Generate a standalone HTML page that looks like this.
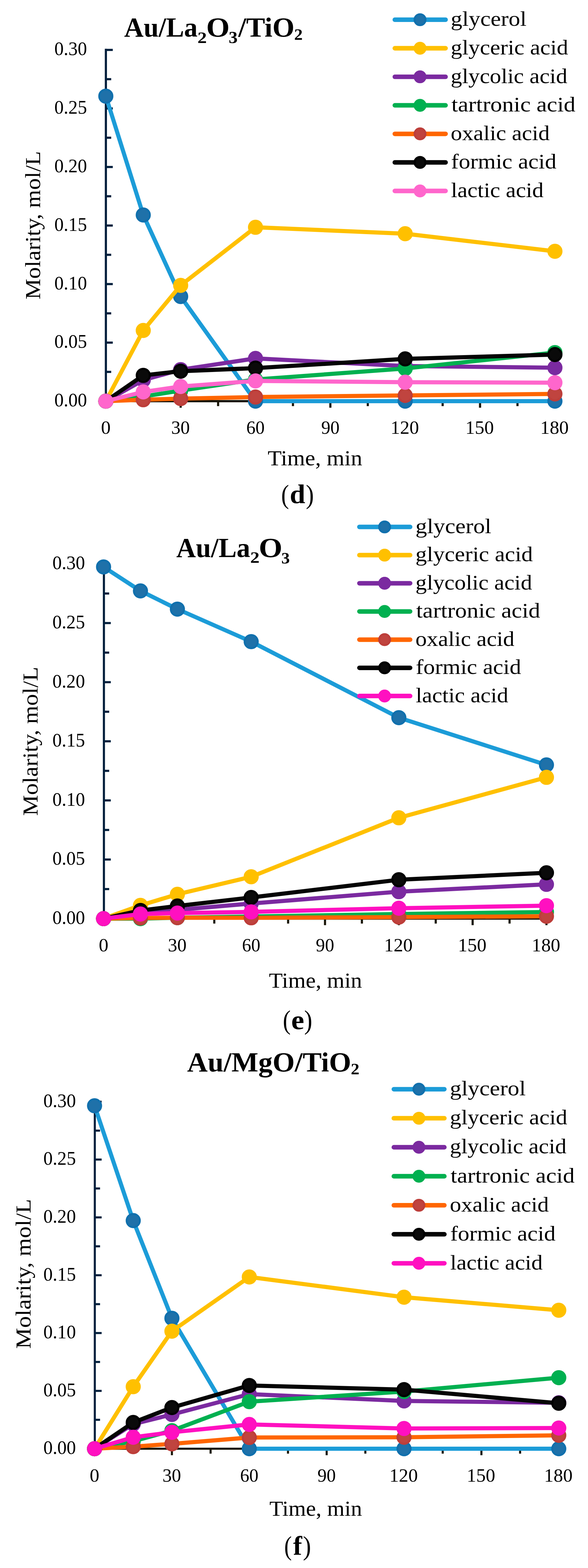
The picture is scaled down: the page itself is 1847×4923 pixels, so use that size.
<!DOCTYPE html>
<html><head><meta charset="utf-8"><title>Glycerol oxidation kinetics</title>
<style>html,body{margin:0;padding:0;background:#fff;}svg{display:block;}text{font-family:'Liberation Serif', serif;}</style></head>
<body><svg width="1847" height="4923" viewBox="0 0 1847 4923">
<rect width="1847" height="4923" fill="#fff"/>
<g id="axes-d">
<line x1="332.6" y1="153.0" x2="332.6" y2="1262.9" stroke="#03203D" stroke-width="6.8"/>
<line x1="332.6" y1="1167.6" x2="349.3" y2="1167.6" stroke="#03203D" stroke-width="6.8"/>
<line x1="332.6" y1="1075.7" x2="354.3" y2="1075.7" stroke="#03203D" stroke-width="6.8"/>
<line x1="332.6" y1="983.8" x2="349.3" y2="983.8" stroke="#03203D" stroke-width="6.8"/>
<line x1="332.6" y1="891.9" x2="354.3" y2="891.9" stroke="#03203D" stroke-width="6.8"/>
<line x1="332.6" y1="800.0" x2="349.3" y2="800.0" stroke="#03203D" stroke-width="6.8"/>
<line x1="332.6" y1="708.1" x2="354.3" y2="708.1" stroke="#03203D" stroke-width="6.8"/>
<line x1="332.6" y1="616.2" x2="349.3" y2="616.2" stroke="#03203D" stroke-width="6.8"/>
<line x1="332.6" y1="524.3" x2="354.3" y2="524.3" stroke="#03203D" stroke-width="6.8"/>
<line x1="332.6" y1="432.4" x2="349.3" y2="432.4" stroke="#03203D" stroke-width="6.8"/>
<line x1="332.6" y1="340.5" x2="354.3" y2="340.5" stroke="#03203D" stroke-width="6.8"/>
<line x1="332.6" y1="248.6" x2="349.3" y2="248.6" stroke="#03203D" stroke-width="6.8"/>
<line x1="332.6" y1="156.7" x2="354.3" y2="156.7" stroke="#03203D" stroke-width="6.8"/>
<line x1="332.6" y1="1259.5" x2="1746.5" y2="1259.5" stroke="#1A1608" stroke-width="6.8"/>
<line x1="450.0" y1="1259.5" x2="450.0" y2="1275.1" stroke="#1A1608" stroke-width="6.8"/>
<line x1="567.5" y1="1259.5" x2="567.5" y2="1280.1" stroke="#1A1608" stroke-width="6.8"/>
<line x1="685.1" y1="1259.5" x2="685.1" y2="1275.1" stroke="#1A1608" stroke-width="6.8"/>
<line x1="802.6" y1="1259.5" x2="802.6" y2="1280.1" stroke="#1A1608" stroke-width="6.8"/>
<line x1="920.2" y1="1259.5" x2="920.2" y2="1275.1" stroke="#1A1608" stroke-width="6.8"/>
<line x1="1037.7" y1="1259.5" x2="1037.7" y2="1280.1" stroke="#1A1608" stroke-width="6.8"/>
<line x1="1155.3" y1="1259.5" x2="1155.3" y2="1275.1" stroke="#1A1608" stroke-width="6.8"/>
<line x1="1272.8" y1="1259.5" x2="1272.8" y2="1280.1" stroke="#1A1608" stroke-width="6.8"/>
<line x1="1390.4" y1="1259.5" x2="1390.4" y2="1275.1" stroke="#1A1608" stroke-width="6.8"/>
<line x1="1507.9" y1="1259.5" x2="1507.9" y2="1280.1" stroke="#1A1608" stroke-width="6.8"/>
<line x1="1625.5" y1="1259.5" x2="1625.5" y2="1275.1" stroke="#1A1608" stroke-width="6.8"/>
<line x1="1743.1" y1="1259.5" x2="1743.1" y2="1280.1" stroke="#1A1608" stroke-width="6.8"/>
</g>
<g id="series-d">
<polyline points="332.4,301.9 450.0,675.0 567.5,930.9 802.6,1259.5 1272.8,1259.5 1743.1,1259.5" fill="none" stroke="#1C9CD8" stroke-width="13.0" stroke-linejoin="round"/>
<circle cx="332.4" cy="301.9" r="20.50" fill="#1F71A9" stroke="#1170AD" stroke-width="6.5"/>
<circle cx="450.0" cy="675.0" r="20.50" fill="#1F71A9" stroke="#1170AD" stroke-width="6.5"/>
<circle cx="567.5" cy="930.9" r="20.50" fill="#1F71A9" stroke="#1170AD" stroke-width="6.5"/>
<circle cx="802.6" cy="1259.5" r="20.50" fill="#1F71A9" stroke="#1170AD" stroke-width="6.5"/>
<circle cx="1272.8" cy="1259.5" r="20.50" fill="#1F71A9" stroke="#1170AD" stroke-width="6.5"/>
<circle cx="1743.1" cy="1259.5" r="20.50" fill="#1F71A9" stroke="#1170AD" stroke-width="6.5"/>
<polyline points="332.4,1259.5 450.0,1037.5 567.5,895.9 802.6,713.6 1272.8,733.8 1743.1,789.0" fill="none" stroke="#FFC000" stroke-width="13.0" stroke-linejoin="round"/>
<circle cx="332.4" cy="1259.5" r="20.50" fill="#FFC000" stroke="#FFC000" stroke-width="6.5"/>
<circle cx="450.0" cy="1037.5" r="20.50" fill="#FFC000" stroke="#FFC000" stroke-width="6.5"/>
<circle cx="567.5" cy="895.9" r="20.50" fill="#FFC000" stroke="#FFC000" stroke-width="6.5"/>
<circle cx="802.6" cy="713.6" r="20.50" fill="#FFC000" stroke="#FFC000" stroke-width="6.5"/>
<circle cx="1272.8" cy="733.8" r="20.50" fill="#FFC000" stroke="#FFC000" stroke-width="6.5"/>
<circle cx="1743.1" cy="789.0" r="20.50" fill="#FFC000" stroke="#FFC000" stroke-width="6.5"/>
<polyline points="332.4,1259.5 450.0,1193.3 567.5,1160.6 802.6,1125.3 1272.8,1149.2 1743.1,1154.4" fill="none" stroke="#7B2AA0" stroke-width="13.0" stroke-linejoin="round"/>
<circle cx="332.4" cy="1259.5" r="20.50" fill="#7B2AA0" stroke="#7B2AA0" stroke-width="6.5"/>
<circle cx="450.0" cy="1193.3" r="20.50" fill="#7B2AA0" stroke="#7B2AA0" stroke-width="6.5"/>
<circle cx="567.5" cy="1160.6" r="20.50" fill="#7B2AA0" stroke="#7B2AA0" stroke-width="6.5"/>
<circle cx="802.6" cy="1125.3" r="20.50" fill="#7B2AA0" stroke="#7B2AA0" stroke-width="6.5"/>
<circle cx="1272.8" cy="1149.2" r="20.50" fill="#7B2AA0" stroke="#7B2AA0" stroke-width="6.5"/>
<circle cx="1743.1" cy="1154.4" r="20.50" fill="#7B2AA0" stroke="#7B2AA0" stroke-width="6.5"/>
<polyline points="332.4,1259.5 450.0,1244.8 567.5,1226.4 802.6,1191.5 1272.8,1156.9 1743.1,1106.9" fill="none" stroke="#00B050" stroke-width="13.0" stroke-linejoin="round"/>
<circle cx="332.4" cy="1259.5" r="20.50" fill="#00B050" stroke="#00B050" stroke-width="6.5"/>
<circle cx="450.0" cy="1244.8" r="20.50" fill="#00B050" stroke="#00B050" stroke-width="6.5"/>
<circle cx="567.5" cy="1226.4" r="20.50" fill="#00B050" stroke="#00B050" stroke-width="6.5"/>
<circle cx="802.6" cy="1191.5" r="20.50" fill="#00B050" stroke="#00B050" stroke-width="6.5"/>
<circle cx="1272.8" cy="1156.9" r="20.50" fill="#00B050" stroke="#00B050" stroke-width="6.5"/>
<circle cx="1743.1" cy="1106.9" r="20.50" fill="#00B050" stroke="#00B050" stroke-width="6.5"/>
<polyline points="332.4,1259.5 450.0,1255.1 567.5,1251.4 802.6,1246.6 1272.8,1241.5 1743.1,1236.7" fill="none" stroke="#FF6600" stroke-width="13.0" stroke-linejoin="round"/>
<circle cx="332.4" cy="1259.5" r="20.50" fill="#C0443F" stroke="#BD3E3A" stroke-width="6.5"/>
<circle cx="450.0" cy="1255.1" r="20.50" fill="#C0443F" stroke="#BD3E3A" stroke-width="6.5"/>
<circle cx="567.5" cy="1251.4" r="20.50" fill="#C0443F" stroke="#BD3E3A" stroke-width="6.5"/>
<circle cx="802.6" cy="1246.6" r="20.50" fill="#C0443F" stroke="#BD3E3A" stroke-width="6.5"/>
<circle cx="1272.8" cy="1241.5" r="20.50" fill="#C0443F" stroke="#BD3E3A" stroke-width="6.5"/>
<circle cx="1743.1" cy="1236.7" r="20.50" fill="#C0443F" stroke="#BD3E3A" stroke-width="6.5"/>
<polyline points="332.4,1259.5 450.0,1178.6 567.5,1165.4 802.6,1155.8 1272.8,1126.8 1743.1,1113.2" fill="none" stroke="#050505" stroke-width="13.0" stroke-linejoin="round"/>
<circle cx="332.4" cy="1259.5" r="20.50" fill="#0A0A0A" stroke="#000000" stroke-width="6.5"/>
<circle cx="450.0" cy="1178.6" r="20.50" fill="#0A0A0A" stroke="#000000" stroke-width="6.5"/>
<circle cx="567.5" cy="1165.4" r="20.50" fill="#0A0A0A" stroke="#000000" stroke-width="6.5"/>
<circle cx="802.6" cy="1155.8" r="20.50" fill="#0A0A0A" stroke="#000000" stroke-width="6.5"/>
<circle cx="1272.8" cy="1126.8" r="20.50" fill="#0A0A0A" stroke="#000000" stroke-width="6.5"/>
<circle cx="1743.1" cy="1113.2" r="20.50" fill="#0A0A0A" stroke="#000000" stroke-width="6.5"/>
<polyline points="332.4,1259.5 450.0,1230.5 567.5,1213.5 802.6,1195.9 1272.8,1199.9 1743.1,1201.4" fill="none" stroke="#FF66CC" stroke-width="13.0" stroke-linejoin="round"/>
<circle cx="332.4" cy="1259.5" r="20.50" fill="#FF66CC" stroke="#FF66CC" stroke-width="6.5"/>
<circle cx="450.0" cy="1230.5" r="20.50" fill="#FF66CC" stroke="#FF66CC" stroke-width="6.5"/>
<circle cx="567.5" cy="1213.5" r="20.50" fill="#FF66CC" stroke="#FF66CC" stroke-width="6.5"/>
<circle cx="802.6" cy="1195.9" r="20.50" fill="#FF66CC" stroke="#FF66CC" stroke-width="6.5"/>
<circle cx="1272.8" cy="1199.9" r="20.50" fill="#FF66CC" stroke="#FF66CC" stroke-width="6.5"/>
<circle cx="1743.1" cy="1201.4" r="20.50" fill="#FF66CC" stroke="#FF66CC" stroke-width="6.5"/>
</g>
<g id="legend-d">
<line x1="1240.2" y1="61.9" x2="1399.6" y2="61.9" stroke="#1C9CD8" stroke-width="14.3" stroke-linecap="round"/>
<circle cx="1319.4" cy="61.9" r="16.95" fill="#1F71A9" stroke="#1170AD" stroke-width="6.5"/>
<line x1="1240.2" y1="151.5" x2="1399.6" y2="151.5" stroke="#FFC000" stroke-width="14.3" stroke-linecap="round"/>
<circle cx="1319.4" cy="151.5" r="16.95" fill="#FFC000" stroke="#FFC000" stroke-width="6.5"/>
<line x1="1240.2" y1="241.1" x2="1399.6" y2="241.1" stroke="#7B2AA0" stroke-width="14.3" stroke-linecap="round"/>
<circle cx="1319.4" cy="241.1" r="16.95" fill="#7B2AA0" stroke="#7B2AA0" stroke-width="6.5"/>
<line x1="1240.2" y1="330.7" x2="1399.6" y2="330.7" stroke="#00B050" stroke-width="14.3" stroke-linecap="round"/>
<circle cx="1319.4" cy="330.7" r="16.95" fill="#00B050" stroke="#00B050" stroke-width="6.5"/>
<line x1="1240.2" y1="420.3" x2="1399.6" y2="420.3" stroke="#FF6600" stroke-width="14.3" stroke-linecap="round"/>
<circle cx="1319.4" cy="420.3" r="16.95" fill="#C0443F" stroke="#BD3E3A" stroke-width="6.5"/>
<line x1="1240.2" y1="509.9" x2="1399.6" y2="509.9" stroke="#050505" stroke-width="14.3" stroke-linecap="round"/>
<circle cx="1319.4" cy="509.9" r="16.95" fill="#0A0A0A" stroke="#000000" stroke-width="6.5"/>
<line x1="1240.2" y1="599.5" x2="1399.6" y2="599.5" stroke="#FF66CC" stroke-width="14.3" stroke-linecap="round"/>
<circle cx="1319.4" cy="599.5" r="16.95" fill="#FF66CC" stroke="#FF66CC" stroke-width="6.5"/>
</g>
<g id="axes-e">
<line x1="326.4" y1="1776.0" x2="326.4" y2="2887.5" stroke="#03203D" stroke-width="6.7"/>
<line x1="326.4" y1="2791.4" x2="343.0" y2="2791.4" stroke="#03203D" stroke-width="6.7"/>
<line x1="326.4" y1="2698.6" x2="348.0" y2="2698.6" stroke="#03203D" stroke-width="6.7"/>
<line x1="326.4" y1="2605.8" x2="343.0" y2="2605.8" stroke="#03203D" stroke-width="6.7"/>
<line x1="326.4" y1="2513.0" x2="348.0" y2="2513.0" stroke="#03203D" stroke-width="6.7"/>
<line x1="326.4" y1="2420.2" x2="343.0" y2="2420.2" stroke="#03203D" stroke-width="6.7"/>
<line x1="326.4" y1="2327.4" x2="348.0" y2="2327.4" stroke="#03203D" stroke-width="6.7"/>
<line x1="326.4" y1="2234.6" x2="343.0" y2="2234.6" stroke="#03203D" stroke-width="6.7"/>
<line x1="326.4" y1="2141.8" x2="348.0" y2="2141.8" stroke="#03203D" stroke-width="6.7"/>
<line x1="326.4" y1="2049.0" x2="343.0" y2="2049.0" stroke="#03203D" stroke-width="6.7"/>
<line x1="326.4" y1="1956.2" x2="348.0" y2="1956.2" stroke="#03203D" stroke-width="6.7"/>
<line x1="326.4" y1="1863.4" x2="343.0" y2="1863.4" stroke="#03203D" stroke-width="6.7"/>
<line x1="326.4" y1="2884.2" x2="1719.9" y2="2884.2" stroke="#1A1608" stroke-width="6.7"/>
<line x1="441.2" y1="2884.2" x2="441.2" y2="2899.7" stroke="#1A1608" stroke-width="6.7"/>
<line x1="557.2" y1="2884.2" x2="557.2" y2="2904.7" stroke="#1A1608" stroke-width="6.7"/>
<line x1="673.1" y1="2884.2" x2="673.1" y2="2899.7" stroke="#1A1608" stroke-width="6.7"/>
<line x1="789.0" y1="2884.2" x2="789.0" y2="2904.7" stroke="#1A1608" stroke-width="6.7"/>
<line x1="905.0" y1="2884.2" x2="905.0" y2="2899.7" stroke="#1A1608" stroke-width="6.7"/>
<line x1="1020.9" y1="2884.2" x2="1020.9" y2="2904.7" stroke="#1A1608" stroke-width="6.7"/>
<line x1="1136.8" y1="2884.2" x2="1136.8" y2="2899.7" stroke="#1A1608" stroke-width="6.7"/>
<line x1="1252.8" y1="2884.2" x2="1252.8" y2="2904.7" stroke="#1A1608" stroke-width="6.7"/>
<line x1="1368.7" y1="2884.2" x2="1368.7" y2="2899.7" stroke="#1A1608" stroke-width="6.7"/>
<line x1="1484.6" y1="2884.2" x2="1484.6" y2="2904.7" stroke="#1A1608" stroke-width="6.7"/>
<line x1="1600.6" y1="2884.2" x2="1600.6" y2="2899.7" stroke="#1A1608" stroke-width="6.7"/>
<line x1="1716.5" y1="2884.2" x2="1716.5" y2="2904.7" stroke="#1A1608" stroke-width="6.7"/>
</g>
<g id="series-e">
<polyline points="325.3,1779.9 441.2,1855.2 557.2,1912.4 789.0,2014.5 1252.8,2253.2 1716.5,2401.6" fill="none" stroke="#1C9CD8" stroke-width="13.0" stroke-linejoin="round"/>
<circle cx="325.3" cy="1779.9" r="20.50" fill="#1F71A9" stroke="#1170AD" stroke-width="6.5"/>
<circle cx="441.2" cy="1855.2" r="20.50" fill="#1F71A9" stroke="#1170AD" stroke-width="6.5"/>
<circle cx="557.2" cy="1912.4" r="20.50" fill="#1F71A9" stroke="#1170AD" stroke-width="6.5"/>
<circle cx="789.0" cy="2014.5" r="20.50" fill="#1F71A9" stroke="#1170AD" stroke-width="6.5"/>
<circle cx="1252.8" cy="2253.2" r="20.50" fill="#1F71A9" stroke="#1170AD" stroke-width="6.5"/>
<circle cx="1716.5" cy="2401.6" r="20.50" fill="#1F71A9" stroke="#1170AD" stroke-width="6.5"/>
<polyline points="325.3,2884.2 441.2,2842.6 557.2,2807.7 789.0,2752.8 1252.8,2567.6 1716.5,2440.6" fill="none" stroke="#FFC000" stroke-width="13.0" stroke-linejoin="round"/>
<circle cx="325.3" cy="2884.2" r="20.50" fill="#FFC000" stroke="#FFC000" stroke-width="6.5"/>
<circle cx="441.2" cy="2842.6" r="20.50" fill="#FFC000" stroke="#FFC000" stroke-width="6.5"/>
<circle cx="557.2" cy="2807.7" r="20.50" fill="#FFC000" stroke="#FFC000" stroke-width="6.5"/>
<circle cx="789.0" cy="2752.8" r="20.50" fill="#FFC000" stroke="#FFC000" stroke-width="6.5"/>
<circle cx="1252.8" cy="2567.6" r="20.50" fill="#FFC000" stroke="#FFC000" stroke-width="6.5"/>
<circle cx="1716.5" cy="2440.6" r="20.50" fill="#FFC000" stroke="#FFC000" stroke-width="6.5"/>
<polyline points="325.3,2884.2 441.2,2867.5 557.2,2856.7 789.0,2836.7 1252.8,2799.6 1716.5,2776.6" fill="none" stroke="#7B2AA0" stroke-width="13.0" stroke-linejoin="round"/>
<circle cx="325.3" cy="2884.2" r="20.50" fill="#7B2AA0" stroke="#7B2AA0" stroke-width="6.5"/>
<circle cx="441.2" cy="2867.5" r="20.50" fill="#7B2AA0" stroke="#7B2AA0" stroke-width="6.5"/>
<circle cx="557.2" cy="2856.7" r="20.50" fill="#7B2AA0" stroke="#7B2AA0" stroke-width="6.5"/>
<circle cx="789.0" cy="2836.7" r="20.50" fill="#7B2AA0" stroke="#7B2AA0" stroke-width="6.5"/>
<circle cx="1252.8" cy="2799.6" r="20.50" fill="#7B2AA0" stroke="#7B2AA0" stroke-width="6.5"/>
<circle cx="1716.5" cy="2776.6" r="20.50" fill="#7B2AA0" stroke="#7B2AA0" stroke-width="6.5"/>
<polyline points="325.3,2884.2 441.2,2884.2 557.2,2881.2 789.0,2877.5 1252.8,2869.7 1716.5,2863.4" fill="none" stroke="#00B050" stroke-width="13.0" stroke-linejoin="round"/>
<circle cx="325.3" cy="2884.2" r="20.50" fill="#00B050" stroke="#00B050" stroke-width="6.5"/>
<circle cx="441.2" cy="2884.2" r="20.50" fill="#00B050" stroke="#00B050" stroke-width="6.5"/>
<circle cx="557.2" cy="2881.2" r="20.50" fill="#00B050" stroke="#00B050" stroke-width="6.5"/>
<circle cx="789.0" cy="2877.5" r="20.50" fill="#00B050" stroke="#00B050" stroke-width="6.5"/>
<circle cx="1252.8" cy="2869.7" r="20.50" fill="#00B050" stroke="#00B050" stroke-width="6.5"/>
<circle cx="1716.5" cy="2863.4" r="20.50" fill="#00B050" stroke="#00B050" stroke-width="6.5"/>
<polyline points="325.3,2884.2 441.2,2882.3 557.2,2881.2 789.0,2881.6 1252.8,2879.4 1716.5,2876.8" fill="none" stroke="#FF6600" stroke-width="13.0" stroke-linejoin="round"/>
<circle cx="325.3" cy="2884.2" r="20.50" fill="#C0443F" stroke="#BD3E3A" stroke-width="6.5"/>
<circle cx="441.2" cy="2882.3" r="20.50" fill="#C0443F" stroke="#BD3E3A" stroke-width="6.5"/>
<circle cx="557.2" cy="2881.2" r="20.50" fill="#C0443F" stroke="#BD3E3A" stroke-width="6.5"/>
<circle cx="789.0" cy="2881.6" r="20.50" fill="#C0443F" stroke="#BD3E3A" stroke-width="6.5"/>
<circle cx="1252.8" cy="2879.4" r="20.50" fill="#C0443F" stroke="#BD3E3A" stroke-width="6.5"/>
<circle cx="1716.5" cy="2876.8" r="20.50" fill="#C0443F" stroke="#BD3E3A" stroke-width="6.5"/>
<polyline points="325.3,2884.2 441.2,2858.6 557.2,2844.5 789.0,2817.8 1252.8,2762.1 1716.5,2740.2" fill="none" stroke="#050505" stroke-width="13.0" stroke-linejoin="round"/>
<circle cx="325.3" cy="2884.2" r="20.50" fill="#0A0A0A" stroke="#000000" stroke-width="6.5"/>
<circle cx="441.2" cy="2858.6" r="20.50" fill="#0A0A0A" stroke="#000000" stroke-width="6.5"/>
<circle cx="557.2" cy="2844.5" r="20.50" fill="#0A0A0A" stroke="#000000" stroke-width="6.5"/>
<circle cx="789.0" cy="2817.8" r="20.50" fill="#0A0A0A" stroke="#000000" stroke-width="6.5"/>
<circle cx="1252.8" cy="2762.1" r="20.50" fill="#0A0A0A" stroke="#000000" stroke-width="6.5"/>
<circle cx="1716.5" cy="2740.2" r="20.50" fill="#0A0A0A" stroke="#000000" stroke-width="6.5"/>
<polyline points="325.3,2884.2 441.2,2869.7 557.2,2866.8 789.0,2863.0 1252.8,2851.5 1716.5,2843.4" fill="none" stroke="#FF10C0" stroke-width="13.0" stroke-linejoin="round"/>
<circle cx="325.3" cy="2884.2" r="20.50" fill="#FF10C0" stroke="#FF10C0" stroke-width="6.5"/>
<circle cx="441.2" cy="2869.7" r="20.50" fill="#FF10C0" stroke="#FF10C0" stroke-width="6.5"/>
<circle cx="557.2" cy="2866.8" r="20.50" fill="#FF10C0" stroke="#FF10C0" stroke-width="6.5"/>
<circle cx="789.0" cy="2863.0" r="20.50" fill="#FF10C0" stroke="#FF10C0" stroke-width="6.5"/>
<circle cx="1252.8" cy="2851.5" r="20.50" fill="#FF10C0" stroke="#FF10C0" stroke-width="6.5"/>
<circle cx="1716.5" cy="2843.4" r="20.50" fill="#FF10C0" stroke="#FF10C0" stroke-width="6.5"/>
</g>
<g id="legend-e">
<line x1="1129.0" y1="1654.4" x2="1288.2" y2="1654.4" stroke="#1C9CD8" stroke-width="14.3" stroke-linecap="round"/>
<circle cx="1208.1" cy="1654.4" r="16.95" fill="#1F71A9" stroke="#1170AD" stroke-width="6.5"/>
<line x1="1129.0" y1="1742.9" x2="1288.2" y2="1742.9" stroke="#FFC000" stroke-width="14.3" stroke-linecap="round"/>
<circle cx="1208.1" cy="1742.9" r="16.95" fill="#FFC000" stroke="#FFC000" stroke-width="6.5"/>
<line x1="1129.0" y1="1831.3" x2="1288.2" y2="1831.3" stroke="#7B2AA0" stroke-width="14.3" stroke-linecap="round"/>
<circle cx="1208.1" cy="1831.3" r="16.95" fill="#7B2AA0" stroke="#7B2AA0" stroke-width="6.5"/>
<line x1="1129.0" y1="1919.8" x2="1288.2" y2="1919.8" stroke="#00B050" stroke-width="14.3" stroke-linecap="round"/>
<circle cx="1208.1" cy="1919.8" r="16.95" fill="#00B050" stroke="#00B050" stroke-width="6.5"/>
<line x1="1129.0" y1="2008.3" x2="1288.2" y2="2008.3" stroke="#FF6600" stroke-width="14.3" stroke-linecap="round"/>
<circle cx="1208.1" cy="2008.3" r="16.95" fill="#C0443F" stroke="#BD3E3A" stroke-width="6.5"/>
<line x1="1129.0" y1="2096.8" x2="1288.2" y2="2096.8" stroke="#050505" stroke-width="14.3" stroke-linecap="round"/>
<circle cx="1208.1" cy="2096.8" r="16.95" fill="#0A0A0A" stroke="#000000" stroke-width="6.5"/>
<line x1="1129.0" y1="2185.2" x2="1288.2" y2="2185.2" stroke="#FF10C0" stroke-width="14.3" stroke-linecap="round"/>
<circle cx="1208.1" cy="2185.2" r="16.95" fill="#FF10C0" stroke="#FF10C0" stroke-width="6.5"/>
</g>
<g id="axes-f">
<line x1="297.8" y1="3456.0" x2="297.8" y2="4551.8" stroke="#03203D" stroke-width="6.5"/>
<line x1="297.8" y1="4457.7" x2="314.3" y2="4457.7" stroke="#03203D" stroke-width="6.5"/>
<line x1="297.8" y1="4366.9" x2="319.3" y2="4366.9" stroke="#03203D" stroke-width="6.5"/>
<line x1="297.8" y1="4276.1" x2="314.3" y2="4276.1" stroke="#03203D" stroke-width="6.5"/>
<line x1="297.8" y1="4185.3" x2="319.3" y2="4185.3" stroke="#03203D" stroke-width="6.5"/>
<line x1="297.8" y1="4094.6" x2="314.3" y2="4094.6" stroke="#03203D" stroke-width="6.5"/>
<line x1="297.8" y1="4003.8" x2="319.3" y2="4003.8" stroke="#03203D" stroke-width="6.5"/>
<line x1="297.8" y1="3913.0" x2="314.3" y2="3913.0" stroke="#03203D" stroke-width="6.5"/>
<line x1="297.8" y1="3822.2" x2="319.3" y2="3822.2" stroke="#03203D" stroke-width="6.5"/>
<line x1="297.8" y1="3731.4" x2="314.3" y2="3731.4" stroke="#03203D" stroke-width="6.5"/>
<line x1="297.8" y1="3640.6" x2="319.3" y2="3640.6" stroke="#03203D" stroke-width="6.5"/>
<line x1="297.8" y1="3549.8" x2="314.3" y2="3549.8" stroke="#03203D" stroke-width="6.5"/>
<line x1="297.8" y1="3459.0" x2="319.3" y2="3459.0" stroke="#03203D" stroke-width="6.5"/>
<line x1="297.8" y1="4548.5" x2="1758.4" y2="4548.5" stroke="#1A1608" stroke-width="6.5"/>
<line x1="418.5" y1="4548.5" x2="418.5" y2="4563.9" stroke="#1A1608" stroke-width="6.5"/>
<line x1="540.0" y1="4548.5" x2="540.0" y2="4568.9" stroke="#1A1608" stroke-width="6.5"/>
<line x1="661.5" y1="4548.5" x2="661.5" y2="4563.9" stroke="#1A1608" stroke-width="6.5"/>
<line x1="783.1" y1="4548.5" x2="783.1" y2="4568.9" stroke="#1A1608" stroke-width="6.5"/>
<line x1="904.6" y1="4548.5" x2="904.6" y2="4563.9" stroke="#1A1608" stroke-width="6.5"/>
<line x1="1026.1" y1="4548.5" x2="1026.1" y2="4568.9" stroke="#1A1608" stroke-width="6.5"/>
<line x1="1147.6" y1="4548.5" x2="1147.6" y2="4563.9" stroke="#1A1608" stroke-width="6.5"/>
<line x1="1269.1" y1="4548.5" x2="1269.1" y2="4568.9" stroke="#1A1608" stroke-width="6.5"/>
<line x1="1390.6" y1="4548.5" x2="1390.6" y2="4563.9" stroke="#1A1608" stroke-width="6.5"/>
<line x1="1512.2" y1="4548.5" x2="1512.2" y2="4568.9" stroke="#1A1608" stroke-width="6.5"/>
<line x1="1633.7" y1="4548.5" x2="1633.7" y2="4563.9" stroke="#1A1608" stroke-width="6.5"/>
<line x1="1755.2" y1="4548.5" x2="1755.2" y2="4568.9" stroke="#1A1608" stroke-width="6.5"/>
</g>
<g id="series-f">
<polyline points="297.0,3471.7 418.5,3832.3 540.0,4138.9 783.1,4548.5 1269.1,4548.5 1755.2,4548.5" fill="none" stroke="#1C9CD8" stroke-width="13.0" stroke-linejoin="round"/>
<circle cx="297.0" cy="3471.7" r="20.50" fill="#1F71A9" stroke="#1170AD" stroke-width="6.5"/>
<circle cx="418.5" cy="3832.3" r="20.50" fill="#1F71A9" stroke="#1170AD" stroke-width="6.5"/>
<circle cx="540.0" cy="4138.9" r="20.50" fill="#1F71A9" stroke="#1170AD" stroke-width="6.5"/>
<circle cx="783.1" cy="4548.5" r="20.50" fill="#1F71A9" stroke="#1170AD" stroke-width="6.5"/>
<circle cx="1269.1" cy="4548.5" r="20.50" fill="#1F71A9" stroke="#1170AD" stroke-width="6.5"/>
<circle cx="1755.2" cy="4548.5" r="20.50" fill="#1F71A9" stroke="#1170AD" stroke-width="6.5"/>
<polyline points="297.0,4548.5 418.5,4353.8 540.0,4179.5 783.1,4009.2 1269.1,4072.8 1755.2,4113.8" fill="none" stroke="#FFC000" stroke-width="13.0" stroke-linejoin="round"/>
<circle cx="297.0" cy="4548.5" r="20.50" fill="#FFC000" stroke="#FFC000" stroke-width="6.5"/>
<circle cx="418.5" cy="4353.8" r="20.50" fill="#FFC000" stroke="#FFC000" stroke-width="6.5"/>
<circle cx="540.0" cy="4179.5" r="20.50" fill="#FFC000" stroke="#FFC000" stroke-width="6.5"/>
<circle cx="783.1" cy="4009.2" r="20.50" fill="#FFC000" stroke="#FFC000" stroke-width="6.5"/>
<circle cx="1269.1" cy="4072.8" r="20.50" fill="#FFC000" stroke="#FFC000" stroke-width="6.5"/>
<circle cx="1755.2" cy="4113.8" r="20.50" fill="#FFC000" stroke="#FFC000" stroke-width="6.5"/>
<polyline points="297.0,4548.5 418.5,4471.1 540.0,4441.0 783.1,4377.1 1269.1,4398.5 1755.2,4404.3" fill="none" stroke="#7B2AA0" stroke-width="13.0" stroke-linejoin="round"/>
<circle cx="297.0" cy="4548.5" r="20.50" fill="#7B2AA0" stroke="#7B2AA0" stroke-width="6.5"/>
<circle cx="418.5" cy="4471.1" r="20.50" fill="#7B2AA0" stroke="#7B2AA0" stroke-width="6.5"/>
<circle cx="540.0" cy="4441.0" r="20.50" fill="#7B2AA0" stroke="#7B2AA0" stroke-width="6.5"/>
<circle cx="783.1" cy="4377.1" r="20.50" fill="#7B2AA0" stroke="#7B2AA0" stroke-width="6.5"/>
<circle cx="1269.1" cy="4398.5" r="20.50" fill="#7B2AA0" stroke="#7B2AA0" stroke-width="6.5"/>
<circle cx="1755.2" cy="4404.3" r="20.50" fill="#7B2AA0" stroke="#7B2AA0" stroke-width="6.5"/>
<polyline points="297.0,4548.5 418.5,4524.9 540.0,4491.8 783.1,4400.7 1269.1,4369.1 1755.2,4325.5" fill="none" stroke="#00B050" stroke-width="13.0" stroke-linejoin="round"/>
<circle cx="297.0" cy="4548.5" r="20.50" fill="#00B050" stroke="#00B050" stroke-width="6.5"/>
<circle cx="418.5" cy="4524.9" r="20.50" fill="#00B050" stroke="#00B050" stroke-width="6.5"/>
<circle cx="540.0" cy="4491.8" r="20.50" fill="#00B050" stroke="#00B050" stroke-width="6.5"/>
<circle cx="783.1" cy="4400.7" r="20.50" fill="#00B050" stroke="#00B050" stroke-width="6.5"/>
<circle cx="1269.1" cy="4369.1" r="20.50" fill="#00B050" stroke="#00B050" stroke-width="6.5"/>
<circle cx="1755.2" cy="4325.5" r="20.50" fill="#00B050" stroke="#00B050" stroke-width="6.5"/>
<polyline points="297.0,4548.5 418.5,4542.0 540.0,4533.2 783.1,4513.3 1269.1,4512.5 1755.2,4506.4" fill="none" stroke="#FF6600" stroke-width="13.0" stroke-linejoin="round"/>
<circle cx="297.0" cy="4548.5" r="20.50" fill="#C0443F" stroke="#BD3E3A" stroke-width="6.5"/>
<circle cx="418.5" cy="4542.0" r="20.50" fill="#C0443F" stroke="#BD3E3A" stroke-width="6.5"/>
<circle cx="540.0" cy="4533.2" r="20.50" fill="#C0443F" stroke="#BD3E3A" stroke-width="6.5"/>
<circle cx="783.1" cy="4513.3" r="20.50" fill="#C0443F" stroke="#BD3E3A" stroke-width="6.5"/>
<circle cx="1269.1" cy="4512.5" r="20.50" fill="#C0443F" stroke="#BD3E3A" stroke-width="6.5"/>
<circle cx="1755.2" cy="4506.4" r="20.50" fill="#C0443F" stroke="#BD3E3A" stroke-width="6.5"/>
<polyline points="297.0,4548.5 418.5,4466.1 540.0,4419.2 783.1,4349.9 1269.1,4362.9 1755.2,4405.8" fill="none" stroke="#050505" stroke-width="13.0" stroke-linejoin="round"/>
<circle cx="297.0" cy="4548.5" r="20.50" fill="#0A0A0A" stroke="#000000" stroke-width="6.5"/>
<circle cx="418.5" cy="4466.1" r="20.50" fill="#0A0A0A" stroke="#000000" stroke-width="6.5"/>
<circle cx="540.0" cy="4419.2" r="20.50" fill="#0A0A0A" stroke="#000000" stroke-width="6.5"/>
<circle cx="783.1" cy="4349.9" r="20.50" fill="#0A0A0A" stroke="#000000" stroke-width="6.5"/>
<circle cx="1269.1" cy="4362.9" r="20.50" fill="#0A0A0A" stroke="#000000" stroke-width="6.5"/>
<circle cx="1755.2" cy="4405.8" r="20.50" fill="#0A0A0A" stroke="#000000" stroke-width="6.5"/>
<polyline points="297.0,4548.5 418.5,4512.5 540.0,4496.9 783.1,4472.2 1269.1,4484.9 1755.2,4483.5" fill="none" stroke="#FF10C0" stroke-width="13.0" stroke-linejoin="round"/>
<circle cx="297.0" cy="4548.5" r="20.50" fill="#FF10C0" stroke="#FF10C0" stroke-width="6.5"/>
<circle cx="418.5" cy="4512.5" r="20.50" fill="#FF10C0" stroke="#FF10C0" stroke-width="6.5"/>
<circle cx="540.0" cy="4496.9" r="20.50" fill="#FF10C0" stroke="#FF10C0" stroke-width="6.5"/>
<circle cx="783.1" cy="4472.2" r="20.50" fill="#FF10C0" stroke="#FF10C0" stroke-width="6.5"/>
<circle cx="1269.1" cy="4484.9" r="20.50" fill="#FF10C0" stroke="#FF10C0" stroke-width="6.5"/>
<circle cx="1755.2" cy="4483.5" r="20.50" fill="#FF10C0" stroke="#FF10C0" stroke-width="6.5"/>
</g>
<g id="legend-f">
<line x1="1237.1" y1="3419.8" x2="1395.8" y2="3419.8" stroke="#1C9CD8" stroke-width="14.3" stroke-linecap="round"/>
<circle cx="1315.9" cy="3419.8" r="16.95" fill="#1F71A9" stroke="#1170AD" stroke-width="6.5"/>
<line x1="1237.1" y1="3510.9" x2="1395.8" y2="3510.9" stroke="#FFC000" stroke-width="14.3" stroke-linecap="round"/>
<circle cx="1315.9" cy="3510.9" r="16.95" fill="#FFC000" stroke="#FFC000" stroke-width="6.5"/>
<line x1="1237.1" y1="3602.0" x2="1395.8" y2="3602.0" stroke="#7B2AA0" stroke-width="14.3" stroke-linecap="round"/>
<circle cx="1315.9" cy="3602.0" r="16.95" fill="#7B2AA0" stroke="#7B2AA0" stroke-width="6.5"/>
<line x1="1237.1" y1="3693.0" x2="1395.8" y2="3693.0" stroke="#00B050" stroke-width="14.3" stroke-linecap="round"/>
<circle cx="1315.9" cy="3693.0" r="16.95" fill="#00B050" stroke="#00B050" stroke-width="6.5"/>
<line x1="1237.1" y1="3784.1" x2="1395.8" y2="3784.1" stroke="#FF6600" stroke-width="14.3" stroke-linecap="round"/>
<circle cx="1315.9" cy="3784.1" r="16.95" fill="#C0443F" stroke="#BD3E3A" stroke-width="6.5"/>
<line x1="1237.1" y1="3875.2" x2="1395.8" y2="3875.2" stroke="#050505" stroke-width="14.3" stroke-linecap="round"/>
<circle cx="1315.9" cy="3875.2" r="16.95" fill="#0A0A0A" stroke="#000000" stroke-width="6.5"/>
<line x1="1237.1" y1="3966.3" x2="1395.8" y2="3966.3" stroke="#FF10C0" stroke-width="14.3" stroke-linecap="round"/>
<circle cx="1315.9" cy="3966.3" r="16.95" fill="#FF10C0" stroke="#FF10C0" stroke-width="6.5"/>
</g>
<g fill="#000">
<text x="170.87" y="1276.25" font-size="60.65" textLength="102.36" lengthAdjust="spacingAndGlyphs">0.00</text>
<text x="170.87" y="1092.45" font-size="60.65" textLength="102.36" lengthAdjust="spacingAndGlyphs">0.05</text>
<text x="170.87" y="908.65" font-size="60.65" textLength="102.36" lengthAdjust="spacingAndGlyphs">0.10</text>
<text x="170.87" y="724.85" font-size="60.65" textLength="102.36" lengthAdjust="spacingAndGlyphs">0.15</text>
<text x="170.87" y="541.05" font-size="60.65" textLength="102.36" lengthAdjust="spacingAndGlyphs">0.20</text>
<text x="170.87" y="357.25" font-size="60.65" textLength="102.36" lengthAdjust="spacingAndGlyphs">0.25</text>
<text x="170.87" y="173.45" font-size="60.65" textLength="102.36" lengthAdjust="spacingAndGlyphs">0.30</text>
<text x="317.26" y="1361.88" font-size="58.91" textLength="30.29" lengthAdjust="spacingAndGlyphs">0</text>
<text x="537.76" y="1361.88" font-size="58.91" textLength="58.58" lengthAdjust="spacingAndGlyphs">30</text>
<text x="773.82" y="1361.88" font-size="58.91" textLength="57.60" lengthAdjust="spacingAndGlyphs">60</text>
<text x="1008.93" y="1361.88" font-size="58.91" textLength="57.60" lengthAdjust="spacingAndGlyphs">90</text>
<text x="1226.68" y="1361.88" font-size="58.91" textLength="89.53" lengthAdjust="spacingAndGlyphs">120</text>
<text x="1461.79" y="1361.88" font-size="58.91" textLength="89.53" lengthAdjust="spacingAndGlyphs">150</text>
<text x="1696.90" y="1361.88" font-size="58.91" textLength="89.53" lengthAdjust="spacingAndGlyphs">180</text>
<text x="1415.73" y="81.40" font-size="66.00" textLength="238.36" lengthAdjust="spacingAndGlyphs">glycerol</text>
<text x="1415.76" y="171.00" font-size="66.00" textLength="368.84" lengthAdjust="spacingAndGlyphs">glyceric acid</text>
<text x="1415.77" y="260.60" font-size="66.00" textLength="366.33" lengthAdjust="spacingAndGlyphs">glycolic acid</text>
<text x="1418.00" y="350.20" font-size="66.00" textLength="389.60" lengthAdjust="spacingAndGlyphs">tartronic acid</text>
<text x="1415.77" y="439.80" font-size="66.00" textLength="310.83" lengthAdjust="spacingAndGlyphs">oxalic acid</text>
<text x="1416.87" y="529.40" font-size="66.00" textLength="330.93" lengthAdjust="spacingAndGlyphs">formic acid</text>
<text x="1416.89" y="619.00" font-size="66.00" textLength="290.51" lengthAdjust="spacingAndGlyphs">lactic acid</text>
<text transform="translate(126.00,939.00) rotate(-90)" x="-1.14" y="0" font-size="67.00" textLength="465.67" lengthAdjust="spacingAndGlyphs">Molarity, mol/L</text>
<text x="840.88" y="1460.60" font-size="67.00" textLength="297.12" lengthAdjust="spacingAndGlyphs">Time, min</text>
<text x="164.67" y="2900.95" font-size="60.65" textLength="102.36" lengthAdjust="spacingAndGlyphs">0.00</text>
<text x="164.67" y="2715.35" font-size="60.65" textLength="102.36" lengthAdjust="spacingAndGlyphs">0.05</text>
<text x="164.67" y="2529.75" font-size="60.65" textLength="102.36" lengthAdjust="spacingAndGlyphs">0.10</text>
<text x="164.67" y="2344.15" font-size="60.65" textLength="102.36" lengthAdjust="spacingAndGlyphs">0.15</text>
<text x="164.67" y="2158.55" font-size="60.65" textLength="102.36" lengthAdjust="spacingAndGlyphs">0.20</text>
<text x="164.67" y="1972.95" font-size="60.65" textLength="102.36" lengthAdjust="spacingAndGlyphs">0.25</text>
<text x="164.67" y="1787.35" font-size="60.65" textLength="102.36" lengthAdjust="spacingAndGlyphs">0.30</text>
<text x="310.16" y="2986.58" font-size="58.91" textLength="30.29" lengthAdjust="spacingAndGlyphs">0</text>
<text x="527.42" y="2986.58" font-size="58.91" textLength="58.58" lengthAdjust="spacingAndGlyphs">30</text>
<text x="760.24" y="2986.58" font-size="58.91" textLength="57.60" lengthAdjust="spacingAndGlyphs">60</text>
<text x="992.11" y="2986.58" font-size="58.91" textLength="57.60" lengthAdjust="spacingAndGlyphs">90</text>
<text x="1206.62" y="2986.58" font-size="58.91" textLength="89.53" lengthAdjust="spacingAndGlyphs">120</text>
<text x="1438.49" y="2986.58" font-size="58.91" textLength="89.53" lengthAdjust="spacingAndGlyphs">150</text>
<text x="1670.36" y="2986.58" font-size="58.91" textLength="89.53" lengthAdjust="spacingAndGlyphs">180</text>
<text x="1304.93" y="1673.90" font-size="66.00" textLength="238.36" lengthAdjust="spacingAndGlyphs">glycerol</text>
<text x="1304.96" y="1762.37" font-size="66.00" textLength="368.84" lengthAdjust="spacingAndGlyphs">glyceric acid</text>
<text x="1304.97" y="1850.84" font-size="66.00" textLength="366.33" lengthAdjust="spacingAndGlyphs">glycolic acid</text>
<text x="1307.20" y="1939.31" font-size="66.00" textLength="389.60" lengthAdjust="spacingAndGlyphs">tartronic acid</text>
<text x="1304.97" y="2027.78" font-size="66.00" textLength="310.83" lengthAdjust="spacingAndGlyphs">oxalic acid</text>
<text x="1306.07" y="2116.25" font-size="66.00" textLength="330.93" lengthAdjust="spacingAndGlyphs">formic acid</text>
<text x="1306.09" y="2204.72" font-size="66.00" textLength="290.51" lengthAdjust="spacingAndGlyphs">lactic acid</text>
<text transform="translate(117.70,2560.20) rotate(-90)" x="-1.15" y="0" font-size="67.00" textLength="467.89" lengthAdjust="spacingAndGlyphs">Molarity, mol/L</text>
<text x="844.89" y="3101.00" font-size="67.00" textLength="292.31" lengthAdjust="spacingAndGlyphs">Time, min</text>
<text x="136.17" y="4565.25" font-size="60.65" textLength="102.36" lengthAdjust="spacingAndGlyphs">0.00</text>
<text x="136.17" y="4383.67" font-size="60.65" textLength="102.36" lengthAdjust="spacingAndGlyphs">0.05</text>
<text x="136.17" y="4202.09" font-size="60.65" textLength="102.36" lengthAdjust="spacingAndGlyphs">0.10</text>
<text x="136.17" y="4020.51" font-size="60.65" textLength="102.36" lengthAdjust="spacingAndGlyphs">0.15</text>
<text x="136.17" y="3838.93" font-size="60.65" textLength="102.36" lengthAdjust="spacingAndGlyphs">0.20</text>
<text x="136.17" y="3657.35" font-size="60.65" textLength="102.36" lengthAdjust="spacingAndGlyphs">0.25</text>
<text x="136.17" y="3475.77" font-size="60.65" textLength="102.36" lengthAdjust="spacingAndGlyphs">0.30</text>
<text x="281.86" y="4652.38" font-size="58.91" textLength="30.29" lengthAdjust="spacingAndGlyphs">0</text>
<text x="510.28" y="4652.38" font-size="58.91" textLength="58.58" lengthAdjust="spacingAndGlyphs">30</text>
<text x="754.26" y="4652.38" font-size="58.91" textLength="57.60" lengthAdjust="spacingAndGlyphs">60</text>
<text x="997.29" y="4652.38" font-size="58.91" textLength="57.60" lengthAdjust="spacingAndGlyphs">90</text>
<text x="1222.96" y="4652.38" font-size="58.91" textLength="89.53" lengthAdjust="spacingAndGlyphs">120</text>
<text x="1465.99" y="4652.38" font-size="58.91" textLength="89.53" lengthAdjust="spacingAndGlyphs">150</text>
<text x="1709.02" y="4652.38" font-size="58.91" textLength="89.53" lengthAdjust="spacingAndGlyphs">180</text>
<text x="1413.03" y="3439.30" font-size="66.00" textLength="238.36" lengthAdjust="spacingAndGlyphs">glycerol</text>
<text x="1413.06" y="3530.38" font-size="66.00" textLength="368.84" lengthAdjust="spacingAndGlyphs">glyceric acid</text>
<text x="1413.07" y="3621.46" font-size="66.00" textLength="366.33" lengthAdjust="spacingAndGlyphs">glycolic acid</text>
<text x="1415.30" y="3712.54" font-size="66.00" textLength="389.60" lengthAdjust="spacingAndGlyphs">tartronic acid</text>
<text x="1413.07" y="3803.62" font-size="66.00" textLength="310.83" lengthAdjust="spacingAndGlyphs">oxalic acid</text>
<text x="1414.17" y="3894.70" font-size="66.00" textLength="330.93" lengthAdjust="spacingAndGlyphs">formic acid</text>
<text x="1414.19" y="3985.78" font-size="66.00" textLength="290.51" lengthAdjust="spacingAndGlyphs">lactic acid</text>
<text transform="translate(96.00,4233.50) rotate(-90)" x="-1.15" y="0" font-size="67.00" textLength="470.32" lengthAdjust="spacingAndGlyphs">Molarity, mol/L</text>
<text x="846.20" y="4759.30" font-size="67.00" textLength="291.00" lengthAdjust="spacingAndGlyphs">Time, min</text>
<text x="390.10" y="114.80" font-size="87.00" textLength="230.40" lengthAdjust="spacingAndGlyphs" font-weight="bold">Au/La</text>
<text x="620.16" y="135.00" font-size="49.86" textLength="29.37" lengthAdjust="spacingAndGlyphs" font-weight="bold">2</text>
<text x="647.75" y="114.80" font-size="87.00" textLength="73.77" lengthAdjust="spacingAndGlyphs" font-weight="bold">O</text>
<text x="718.24" y="135.37" font-size="53.24" textLength="28.11" lengthAdjust="spacingAndGlyphs" font-weight="bold">3</text>
<text x="748.59" y="114.80" font-size="87.00" textLength="176.48" lengthAdjust="spacingAndGlyphs" font-weight="bold">/TiO</text>
<text x="924.03" y="124.70" font-size="50.46" textLength="26.74" lengthAdjust="spacingAndGlyphs" font-weight="bold">2</text>
<text x="553.80" y="1748.60" font-size="87.00" textLength="232.10" lengthAdjust="spacingAndGlyphs" font-weight="bold">Au/La</text>
<text x="785.97" y="1767.40" font-size="49.71" textLength="29.26" lengthAdjust="spacingAndGlyphs" font-weight="bold">2</text>
<text x="812.82" y="1748.60" font-size="87.00" textLength="74.33" lengthAdjust="spacingAndGlyphs" font-weight="bold">O</text>
<text x="883.74" y="1768.60" font-size="51.49" textLength="26.51" lengthAdjust="spacingAndGlyphs" font-weight="bold">3</text>
<text x="587.80" y="3364.20" font-size="87.00" textLength="515.39" lengthAdjust="spacingAndGlyphs" font-weight="bold">Au/MgO/TiO</text>
<text x="1102.01" y="3372.80" font-size="50.75" textLength="26.97" lengthAdjust="spacingAndGlyphs" font-weight="bold">2</text>
<text transform="translate(0,1581.27) scale(1,1.2836)" x="883.19" y="0" font-size="66.00" textLength="24.63" lengthAdjust="spacingAndGlyphs">(</text>
<text x="910.17" y="1579.86" font-size="85.57" textLength="48.64" lengthAdjust="spacingAndGlyphs" font-weight="bold">d</text>
<text transform="translate(0,1581.27) scale(1,1.2836)" x="960.84" y="0" font-size="66.00" textLength="25.20" lengthAdjust="spacingAndGlyphs">)</text>
<text transform="translate(0,3230.96) scale(1,1.2770)" x="888.40" y="0" font-size="66.00" textLength="24.51" lengthAdjust="spacingAndGlyphs">(</text>
<text x="914.73" y="3231.48" font-size="84.80" textLength="40.79" lengthAdjust="spacingAndGlyphs" font-weight="bold">e</text>
<text transform="translate(0,3230.96) scale(1,1.2770)" x="955.61" y="0" font-size="66.00" textLength="25.45" lengthAdjust="spacingAndGlyphs">)</text>
<text transform="translate(0,4882.44) scale(1,1.2853)" x="892.67" y="0" font-size="66.00" textLength="23.80" lengthAdjust="spacingAndGlyphs">(</text>
<text x="920.70" y="4881.80" font-size="85.01" textLength="28.09" lengthAdjust="spacingAndGlyphs" font-weight="bold">f</text>
<text transform="translate(0,4882.44) scale(1,1.2853)" x="951.51" y="0" font-size="66.00" textLength="25.45" lengthAdjust="spacingAndGlyphs">)</text>
</g>
</svg></body></html>
